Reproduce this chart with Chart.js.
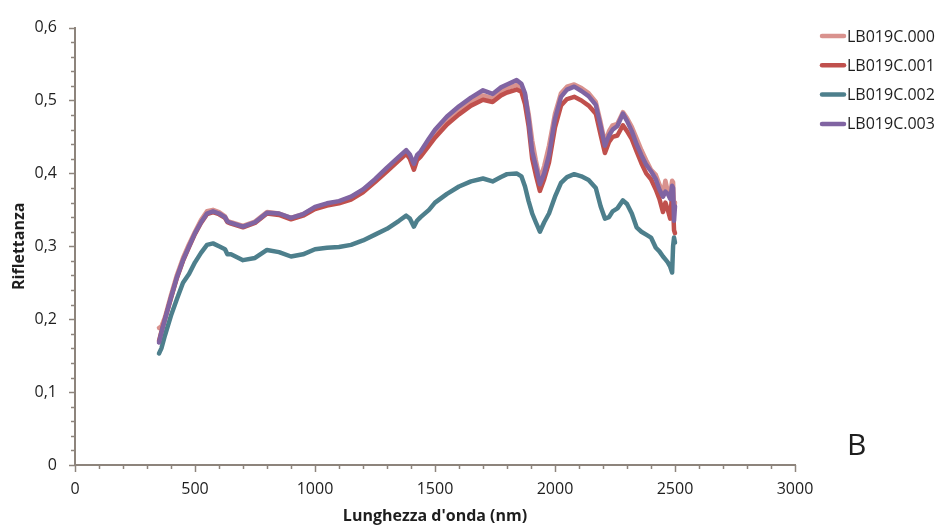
<!DOCTYPE html>
<html>
<head>
<meta charset="utf-8">
<script src="https://cdn.jsdelivr.net/npm/chart.js@4/dist/chart.umd.min.js"></script>
<style>
  html, body { margin: 0; padding: 0; background: #ffffff; }
  #wrap { width: 942px; height: 530px; position: relative; }
</style>
</head>
<body>
<div id="wrap"><canvas id="c" width="942" height="530"></canvas></div>
<script>
// Wavelengths (nm) at which the reflectance spectra are sampled
const wavelengths = [350,360,375,400,425,450,475,500,525,550,575,600,625,635,650,700,750,800,850,900,950,1000,1050,1100,1150,1200,1250,1300,1350,1380,1395,1412,1425,1440,1475,1500,1550,1600,1650,1700,1740,1775,1800,1840,1860,1875,1890,1905,1920,1937,1955,1975,2000,2025,2050,2080,2110,2140,2170,2190,2208,2225,2240,2260,2283,2300,2320,2340,2360,2380,2400,2420,2435,2450,2460,2470,2480,2488,2492,2496,2500];

// Reflectance of each sample
const lb019c000 = [0.188,0.190,0.203,0.233,0.261,0.284,0.303,0.320,0.336,0.348,0.350,0.347,0.341,0.335,0.333,0.328,0.334,0.347,0.345,0.339,0.344,0.353,0.358,0.361,0.367,0.377,0.391,0.406,0.421,0.430,0.424,0.411,0.423,0.428,0.444,0.455,0.473,0.487,0.499,0.507,0.503,0.512,0.517,0.521,0.518,0.508,0.482,0.445,0.418,0.392,0.410,0.438,0.482,0.510,0.519,0.522,0.517,0.510,0.498,0.470,0.442,0.458,0.466,0.468,0.484,0.476,0.464,0.448,0.432,0.418,0.405,0.398,0.385,0.372,0.390,0.375,0.370,0.390,0.388,0.350,0.360];
const lb019c001 = [0.170,0.183,0.200,0.229,0.257,0.280,0.299,0.317,0.332,0.344,0.347,0.344,0.339,0.333,0.331,0.326,0.332,0.345,0.343,0.337,0.342,0.351,0.356,0.359,0.364,0.374,0.388,0.403,0.418,0.427,0.420,0.405,0.418,0.423,0.438,0.449,0.467,0.481,0.493,0.501,0.498,0.507,0.511,0.515,0.512,0.495,0.465,0.420,0.398,0.376,0.392,0.415,0.463,0.493,0.502,0.505,0.500,0.493,0.482,0.453,0.428,0.443,0.450,0.452,0.466,0.458,0.447,0.430,0.414,0.400,0.392,0.378,0.365,0.347,0.360,0.350,0.338,0.372,0.355,0.322,0.318];
const lb019c002 = [0.153,0.160,0.178,0.205,0.228,0.250,0.262,0.278,0.291,0.302,0.304,0.300,0.296,0.289,0.289,0.281,0.284,0.295,0.292,0.286,0.289,0.296,0.298,0.299,0.302,0.308,0.316,0.324,0.335,0.342,0.338,0.327,0.335,0.340,0.350,0.360,0.372,0.382,0.389,0.393,0.389,0.395,0.399,0.400,0.396,0.382,0.362,0.345,0.333,0.320,0.333,0.345,0.368,0.387,0.395,0.399,0.396,0.391,0.380,0.355,0.338,0.340,0.348,0.352,0.363,0.358,0.345,0.326,0.320,0.316,0.312,0.298,0.293,0.286,0.282,0.278,0.272,0.264,0.300,0.312,0.305];
const lb019c003 = [0.168,0.182,0.200,0.230,0.258,0.281,0.300,0.318,0.333,0.345,0.348,0.345,0.340,0.334,0.332,0.327,0.333,0.346,0.345,0.339,0.344,0.354,0.359,0.362,0.368,0.378,0.392,0.408,0.423,0.432,0.426,0.413,0.425,0.430,0.448,0.460,0.478,0.492,0.504,0.514,0.509,0.518,0.522,0.528,0.523,0.510,0.475,0.430,0.410,0.385,0.400,0.425,0.475,0.505,0.515,0.519,0.513,0.506,0.494,0.465,0.438,0.452,0.460,0.465,0.482,0.472,0.458,0.440,0.425,0.412,0.403,0.392,0.378,0.368,0.375,0.372,0.365,0.383,0.380,0.335,0.355];

const seriesNames = ['LB019C.000', 'LB019C.001', 'LB019C.002', 'LB019C.003'];
const seriesValues = [lb019c000, lb019c001, lb019c002, lb019c003];
const seriesColors = ['#d9928e', '#c0504d', '#4d7f8c', '#8064a2'];
// later samples sit on top of earlier ones
const seriesOrder = [3, 2, 1, 0];

const AXIS = '#8d847c';
const TEXT = '#1e1e1e';
const FONT = "'Open Sans', 'DejaVu Sans', sans-serif";

const datasets = seriesNames.map((name, s) => ({
  label: name,
  data: wavelengths.map((w, i) => ({ x: w, y: seriesValues[s][i] })),
  borderColor: seriesColors[s],
  backgroundColor: seriesColors[s],
  borderWidth: 4.5,
  pointRadius: 0,
  tension: 0,
  fill: false,
  order: seriesOrder[s],
  borderCapStyle: 'round',
  borderJoinStyle: 'round'
}));

// Tick marks on both axes: long at labelled values, short in between
const tickMarks = {
  id: 'tickMarks',
  afterDraw(chart) {
    const { ctx, scales: { x, y } } = chart;
    ctx.save();
    ctx.strokeStyle = AXIS;
    ctx.lineWidth = 1.5;
    const y0 = y.getPixelForValue(0);
    for (let v = 0; v <= 3000; v += 100) {
      const px = Math.round(x.getPixelForValue(v)) + 0.5;
      const len = v % 500 === 0 ? 7 : 4;
      ctx.beginPath(); ctx.moveTo(px, y0); ctx.lineTo(px, y0 + len); ctx.stroke();
    }
    const x0 = x.getPixelForValue(0);
    for (let k = 0; k <= 30; k++) {
      const py = Math.round(y.getPixelForValue(k * 0.02)) + 0.5;
      const len = k % 5 === 0 ? 6 : 4;
      ctx.beginPath(); ctx.moveTo(x0, py); ctx.lineTo(x0 - len, py); ctx.stroke();
    }
    ctx.restore();
  }
};

// Series key on the right and the panel letter
const sideKey = {
  id: 'sideKey',
  afterDraw(chart) {
    const { ctx } = chart;
    ctx.save();
    chart.data.datasets.forEach((ds, i) => {
      const cy = 36 + i * 29.3;
      ctx.strokeStyle = ds.borderColor;
      ctx.lineWidth = 4.5;
      ctx.lineCap = 'round';
      ctx.beginPath(); ctx.moveTo(822, cy); ctx.lineTo(844, cy); ctx.stroke();
      ctx.fillStyle = TEXT;
      ctx.font = '16px ' + FONT;
      ctx.textBaseline = 'middle';
      ctx.textAlign = 'left';
      ctx.fillText(ds.label, 847, cy + 1);
    });
    ctx.font = '30px ' + FONT;
    ctx.textBaseline = 'alphabetic';
    ctx.fillText('B', 847, 455);
    ctx.restore();
  }
};

new Chart(document.getElementById('c'), {
  type: 'line',
  data: { datasets },
  options: {
    responsive: false,
    animation: false,
    devicePixelRatio: 1,
    layout: { padding: { top: 21, right: 147, left: 0, bottom: 0 } },
    plugins: { legend: { display: false }, tooltip: { enabled: false } },
    scales: {
      x: {
        type: 'linear',
        min: 0, max: 3000,
        afterFit(scale) { scale.height = 65; },
        grid: { display: false, drawTicks: false },
        border: { display: true, color: AXIS, width: 2 },
        ticks: {
          stepSize: 500,
          padding: 15,
          color: TEXT,
          font: { family: FONT, size: 16 },
          maxRotation: 0,
          callback: v => String(v)
        },
        title: {
          display: true,
          text: "Lunghezza d'onda (nm)",
          color: TEXT,
          font: { family: FONT, size: 16, weight: 'bold' },
          padding: { top: 0, bottom: 4 }
        }
      },
      y: {
        type: 'linear',
        min: 0, max: 0.6,
        afterFit(scale) { scale.width = 75; },
        grid: { display: false, drawTicks: false },
        border: { display: true, color: AXIS, width: 2 },
        ticks: {
          stepSize: 0.1,
          padding: 18,
          color: TEXT,
          font: { family: FONT, size: 16 },
          callback: v => (Math.round(v * 10) / 10).toString().replace('.', ',')
        },
        title: {
          display: true,
          text: 'Riflettanza',
          color: TEXT,
          font: { family: FONT, size: 16, weight: 'bold' },
          padding: { top: 10, bottom: 0 }
        }
      }
    }
  },
  plugins: [tickMarks, sideKey]
});
</script>
</body>
</html>
